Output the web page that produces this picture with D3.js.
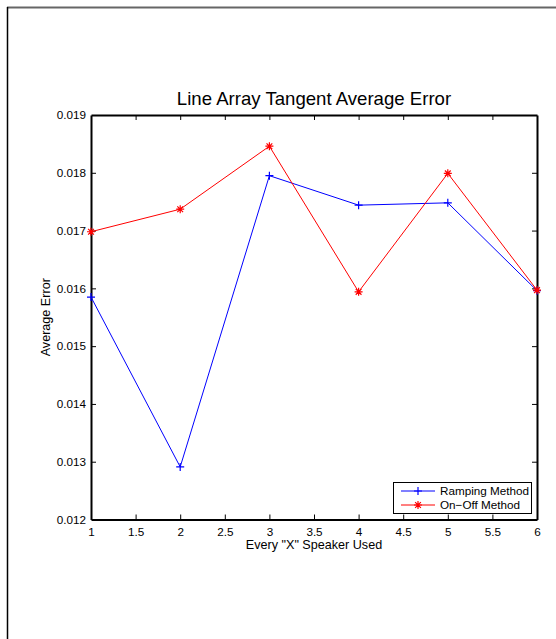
<!DOCTYPE html>
<html>
<head>
<meta charset="utf-8">
<script src="https://cdn.jsdelivr.net/npm/d3@7"></script>
<style>
  html, body { margin: 0; padding: 0; background: #fff; }
  svg { display: block; }
  text { font-family: "Liberation Sans", Arial, Helvetica, sans-serif; fill: #000; }
</style>
</head>
<body>
<svg id="chart" width="556" height="639"></svg>
<script>
// Speaker spacing (every X-th speaker used)
const xValues = [1, 2, 3, 4, 5, 6];
// Average error per spacing
const rampingValues = [0.01585, 0.01291, 0.01795, 0.01744, 0.01748, 0.01596];
const onOffValues   = [0.01698, 0.01737, 0.01846, 0.01594, 0.01799, 0.01597];
const xTicks = [1, 1.5, 2, 2.5, 3, 3.5, 4, 4.5, 5, 5.5, 6];
const yTicks = [0.012, 0.013, 0.014, 0.015, 0.016, 0.017, 0.018, 0.019];
const seriesNames = ["Ramping Method", "On\u2212Off Method"];

const svg = d3.select("#chart");
const W = 556, H = 639;
const m = { left: 91, right: 537, top: 115, bottom: 519.5 };

// Outer figure frame (top + left edges)
svg.append("line").attr("x1", 7).attr("x2", W).attr("y1", 7.5).attr("y2", 7.5)
  .attr("stroke", "#666").attr("stroke-width", 2);
svg.append("line").attr("x1", 7.5).attr("x2", 7.5).attr("y1", 7).attr("y2", H)
  .attr("stroke", "#000").attr("stroke-width", 1.5);

const x = d3.scaleLinear().domain([1, 6]).range([m.left, m.right]);
const y = d3.scaleLinear().domain([0.012, 0.019]).range([m.bottom, m.top]);

const fmtX = d => d3.format("")(d);
const fmtY = d3.format(".3f");
const tickLen = 5;

// Axes: ticks point inward, box on all four sides
const gB = svg.append("g").attr("transform", `translate(0,${m.bottom})`)
  .call(d3.axisBottom(x).tickValues(xTicks).tickFormat(fmtX).tickSizeInner(-tickLen).tickSizeOuter(0).tickPadding(8));
const gT = svg.append("g").attr("transform", `translate(0,${m.top})`)
  .call(d3.axisTop(x).tickValues(xTicks).tickFormat("").tickSizeInner(-tickLen).tickSizeOuter(0));
const gL = svg.append("g").attr("transform", `translate(${m.left},0)`)
  .call(d3.axisLeft(y).tickValues(yTicks).tickFormat(fmtY).tickSizeInner(-tickLen).tickSizeOuter(0).tickPadding(5));
const gR = svg.append("g").attr("transform", `translate(${m.right},0)`)
  .call(d3.axisRight(y).tickValues(yTicks).tickFormat("").tickSizeInner(-tickLen).tickSizeOuter(0));

[gB, gT, gL, gR].forEach(g => {
  g.select(".domain").attr("stroke", "#000").attr("stroke-width", 2);
  g.selectAll(".tick line").attr("stroke", "#000").attr("stroke-width", 1);
  g.selectAll(".tick text").style("font-size", "11.7px").attr("fill", "#111")
    .style("font-family", "'Liberation Sans', Arial, sans-serif");
});
// hide the end ticks that sit on the box corners
gT.selectAll(".tick").filter(d => d === 1 || d === 6).select("line").remove();
gB.selectAll(".tick").filter(d => d === 1 || d === 6).select("line").remove();
gL.selectAll(".tick").filter(d => d === 0.012 || d === 0.019).select("line").attr("x2", 0);
gR.selectAll(".tick").filter(d => d === 0.012 || d === 0.019).select("line").remove();

// Title and axis labels
svg.append("text").attr("x", (m.left + m.right) / 2).attr("y", 105)
  .attr("text-anchor", "middle").style("font-size", "18.6px")
  .text("Line Array Tangent Average Error");
svg.append("text").attr("x", (m.left + m.right) / 2).attr("y", 549)
  .attr("text-anchor", "middle").style("font-size", "12.6px")
  .text("Every \"X\" Speaker Used");
svg.append("text").attr("transform", `translate(50,${(m.top + m.bottom) / 2}) rotate(-90)`)
  .attr("text-anchor", "middle").style("font-size", "12.6px")
  .text("Average Error");

const line = d3.line().x(d => x(d[0])).y(d => y(d[1]));
const rampPts = xValues.map((v, i) => [v, rampingValues[i]]);
const onOffPts = xValues.map((v, i) => [v, onOffValues[i]]);

function plus(g, cx, cy, s, color) {
  g.append("path").attr("d", `M${cx - s},${cy}H${cx + s}M${cx},${cy - s}V${cy + s}`)
    .attr("stroke", color).attr("stroke-width", 1.2).attr("fill", "none");
}
function star(g, cx, cy, s, color) {
  const d = s * 0.72;
  g.append("path").attr("d",
    `M${cx - s},${cy}H${cx + s}M${cx},${cy - s}V${cy + s}M${cx - d},${cy - d}L${cx + d},${cy + d}M${cx - d},${cy + d}L${cx + d},${cy - d}`)
    .attr("stroke", color).attr("stroke-width", 1.2).attr("fill", "none");
}

const plot = svg.append("g");
plot.append("path").datum(rampPts).attr("d", line)
  .attr("fill", "none").attr("stroke", "#0000ff").attr("stroke-width", 1);
rampPts.forEach(p => plus(plot, x(p[0]), y(p[1]), 4, "#0000ff"));
plot.append("path").datum(onOffPts).attr("d", line)
  .attr("fill", "none").attr("stroke", "#ff0000").attr("stroke-width", 1);
onOffPts.forEach(p => star(plot, x(p[0]), y(p[1]), 4, "#ff0000"));

// Legend
const lg = svg.append("g");
lg.append("rect").attr("x", 393.5).attr("y", 482.5).attr("width", 138).attr("height", 31)
  .attr("fill", "#fff").attr("stroke", "#000").attr("stroke-width", 1);
const legendColors = ["#0000ff", "#ff0000"];
seriesNames.forEach((name, i) => {
  const ly = 491 + i * 14;
  lg.append("line").attr("x1", 401).attr("x2", 435).attr("y1", ly).attr("y2", ly)
    .attr("stroke", legendColors[i]).attr("stroke-width", 1);
  if (i === 0) plus(lg, 418, ly, 4, legendColors[i]);
  else star(lg, 418, ly, 4, legendColors[i]);
  lg.append("text").attr("x", 440).attr("y", ly + 4).style("font-size", "11.7px").text(name);
});
</script>
</body>
</html>
